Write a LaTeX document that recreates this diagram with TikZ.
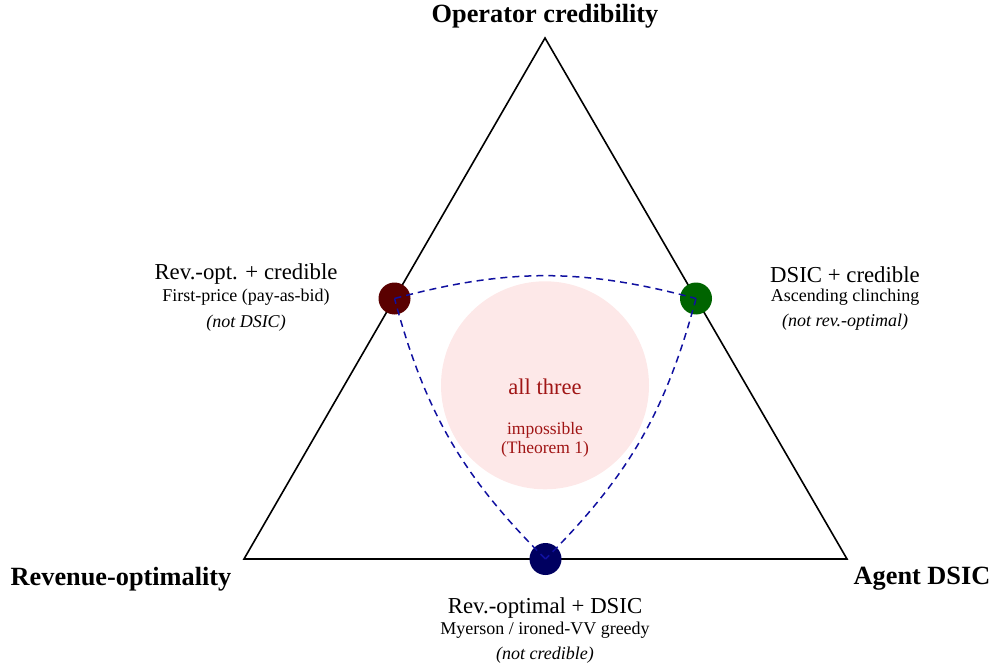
\documentclass[tikz,border=0pt]{standalone}
\usepackage{fontspec}
\setmainfont{Liberation Serif}
\usetikzlibrary{calc}
\definecolor{impred}{HTML}{A01515}
\definecolor{impfill}{HTML}{FDE8E8}
\definecolor{dotred}{HTML}{5A0000}
\definecolor{dotgreen}{HTML}{006400}
\definecolor{dotblue}{HTML}{000060}
\definecolor{dashblue}{HTML}{1010A0}
\tikzset{
  corner/.style={font=\fontsize{26.3}{30}\selectfont\bfseries, inner sep=0pt},
  pairhead/.style={font=\fontsize{22.8}{26}\selectfont, inner sep=0pt},
  pairsub/.style={font=\fontsize{18}{21}\selectfont, inner sep=0pt},
  pairnot/.style={font=\fontsize{18}{21}\selectfont\itshape, inner sep=0pt},
  impbig/.style={font=\fontsize{22.5}{26}\selectfont, text=impred, inner sep=0pt},
  impsmall/.style={font=\fontsize{17.5}{21}\selectfont, text=impred, inner sep=0pt},
  dotnode/.style={circle, minimum size=32pt, inner sep=0pt},
  curvelink/.style={dashblue, line width=1.5pt, dash pattern=on 7pt off 5pt},
  tri/.style={line width=1.6pt, line join=miter},
}
\begin{document}
\begin{tikzpicture}[x=1pt,y=-1pt]
\useasboundingbox (0,0) rectangle (995,668);
\coordinate (T) at (545,38);
\coordinate (L) at (244,559);
\coordinate (R) at (847,559);
\node[circle, fill=impfill, minimum size=208pt, inner sep=0pt] (imp) at (545,385.3) {};
\draw[tri] (T) -- (R) -- (L) -- cycle;
\node[dotnode, fill=dotred] (dl) at ($(L)!0.5!(T)$) {};
\node[dotnode, fill=dotgreen] (dr) at ($(R)!0.5!(T)$) {};
\node[dotnode, fill=dotblue] (db) at ($(L)!0.5!(R)$) {};
\draw[curvelink] (dl.center) to[bend left=15] (dr.center);
\draw[curvelink] (dr.center) to[bend left=15] (db.center);
\draw[curvelink] (db.center) to[bend left=15] (dl.center);
\node[corner] (ct) at (545,16) {Operator credibility};
\node[corner] (cl) at (121,579) {Revenue-optimality};
\node[corner] (cr) at (922,579) {Agent DSIC};
\node[pairhead] (lh) at (246,274.5) {Rev.-opt. + credible};
\node[pairsub] (ls) at (246,297.5) {First-price (pay-as-bid)};
\node[pairnot] (ln) at (246,323) {(not DSIC)};
\node[pairhead] (rh) at (845,274.5) {DSIC + credible};
\node[pairsub] (rs) at (845,297.5) {Ascending clinching};
\node[pairnot] (rn) at (845,322) {(not rev.-optimal)};
\node[pairhead] (bh) at (545,608.5) {Rev.-optimal + DSIC};
\node[pairsub] (bs) at (545,630.5) {Myerson / ironed-VV greedy};
\node[pairnot] (bn) at (545,655) {(not credible)};
\node[impbig] (a3) at (545,387) {all three};
\node[impsmall] (ai) at (545,430) {impossible};
\node[impsmall] (at) at (545,449) {(Theorem 1)};
\end{tikzpicture}
\end{document}
